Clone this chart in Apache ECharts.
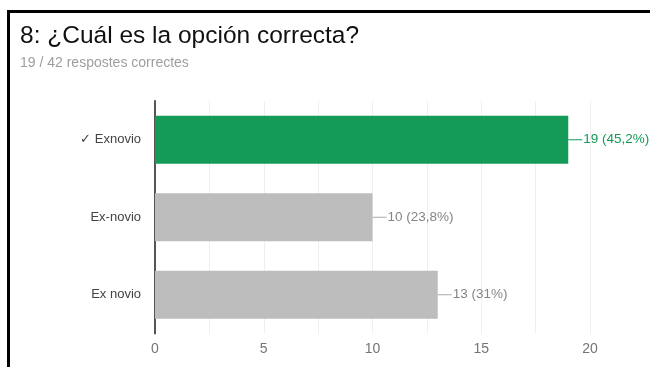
<!DOCTYPE html>
<html>
<head>
<meta charset="utf-8">
<script src="https://cdn.jsdelivr.net/npm/echarts@6/dist/echarts.min.js"></script>
<style>
html,body{margin:0;padding:0;background:#fff;}
#c{width:650px;height:367px;}
</style>
</head>
<body>
<div id="c"></div>
<script>
var categories = ['✓ Exnovio', 'Ex-novio', 'Ex novio'];
var counts = [19, 10, 13];
var percents = ['45,2%', '23,8%', '31%'];
var correct = [true, false, false];
var xTicks = [0, 5, 10, 15, 20];

var GREEN = '#139b57', GRAY = '#bdbdbd';
var FONT = 'Liberation Sans, Arial, sans-serif';
var chart = echarts.init(document.getElementById('c'));
chart.setOption({
  animation: false,
  backgroundColor: '#fff',
  title: {
    text: '8: ¿Cuál es la opción correcta?',
    subtext: counts[0] + ' / 42 respostes correctes',
    left: 15, top: 19, itemGap: 7,
    textStyle: {fontFamily: FONT, fontSize: 24.5, fontWeight: 'normal', color: '#111'},
    subtextStyle: {fontFamily: FONT, fontSize: 14, color: '#9e9e9e'}
  },
  graphic: [
    {type: 'line', shape: {x1: 8.5, y1: 11, x2: 8.5, y2: 367}, style: {stroke: '#000', lineWidth: 3}},
    {type: 'line', shape: {x1: 7, y1: 11.5, x2: 650, y2: 11.5}, style: {stroke: '#000', lineWidth: 3}}
  ],
  grid: {left: 155, right: 60, top: 101, bottom: 33.5},
  xAxis: {
    type: 'value', min: 0, max: 20, interval: 2.5,
    axisLine: {show: false}, axisTick: {show: false},
    splitLine: {lineStyle: {color: '#efefef', width: 1}},
    axisLabel: {
      fontFamily: FONT, fontSize: 14, color: '#757575', margin: 9,
      formatter: function (v) { return xTicks.indexOf(v) >= 0 ? String(v) : ''; }
    }
  },
  yAxis: {
    type: 'category', data: categories, inverse: true,
    axisLine: {lineStyle: {color: '#555', width: 2}},
    axisTick: {show: false},
    axisLabel: {fontFamily: FONT, fontSize: 13, color: '#444', margin: 14}
  },
  series: [{
    type: 'bar',
    barWidth: 48,
    data: counts.map(function (v, i) {
      var col = correct[i] ? GREEN : GRAY;
      var tcol = correct[i] ? GREEN : '#858585';
      return {
        value: v,
        itemStyle: {color: col},
        label: {
          show: true, position: 'right', distance: 0,
          formatter: '{l|}{t|' + v + ' (' + percents[i] + ')}',
          rich: {
            l: {width: 14, height: 1, backgroundColor: correct[i] ? GREEN : '#aaaaaa', verticalAlign: 'middle'},
            t: {fontFamily: FONT, fontSize: 13.5, color: tcol, padding: [0, 0, 0, 1]}
          }
        }
      };
    })
  }]
});
</script>
</body>
</html>
